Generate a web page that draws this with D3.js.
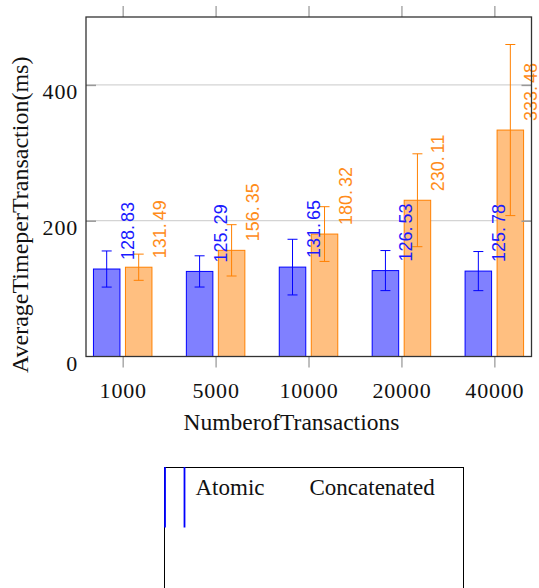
<!DOCTYPE html>
<html>
<head>
<meta charset="utf-8">
<script src="https://cdn.jsdelivr.net/npm/d3@7"></script>
<style>
  body { margin: 0; background: #fff; }
</style>
</head>
<body>
<svg id="chart" width="539" height="588"></svg>
<script>
// data
const categories = ["1000", "5000", "10000", "20000", "40000"];
const atomic = [128.83, 125.29, 131.65, 126.53, 125.78];
const atomicErr = [26.6, 23, 41, 29.5, 28.8];
const concatenated = [131.49, 156.35, 180.32, 230.11, 333.48];
const concatenatedErr = [19.3, 37.8, 40.3, 68.4, 126];
const yTicks = [0, 200, 400];
const gridTicks = [200, 400];
const legendLabels = ["Atomic", "Concatenated"];

const svg = d3.select("#chart");
const plotLeft = 86, plotRight = 531.5, plotTop = 17, plotBottom = 356.5;
const serif = "'Liberation Serif', serif";

const x = d3.scaleLinear().domain([-0.395, 4.4]).range([plotLeft, plotRight]);
const y = d3.scaleLinear().domain([0, 500]).range([plotBottom, plotTop]);

const series = [
    { name: "Atomic", values: atomic, err: atomicErr, offset: -16, stroke: "#0000ff", fill: "#8080ff", text: "#1a1aff" },
    { name: "Concatenated", values: concatenated, err: concatenatedErr, offset: 16, stroke: "#ff8000", fill: "#ffbf80", text: "#ff8c1a" }
];
const barW = 26.5;

// grid lines
svg.append("g")
    .selectAll("line")
    .data(gridTicks)
    .join("line")
    .attr("x1", plotLeft).attr("x2", plotRight)
    .attr("y1", d => y(d)).attr("y2", d => y(d))
    .attr("stroke", "#d4d4d4")
    .attr("stroke-width", 1.2);

// bars and error bars
series.forEach(s => {
    const g = svg.append("g");
    const idx = d3.range(s.values.length);

    g.selectAll("rect")
        .data(idx)
        .join("rect")
        .attr("x", i => x(i) + s.offset - barW / 2)
        .attr("y", i => y(s.values[i]))
        .attr("width", barW)
        .attr("height", i => y(0) - y(s.values[i]))
        .attr("fill", s.fill)
        .attr("stroke", s.stroke)
        .attr("stroke-width", 1);

    g.selectAll(".err")
        .data(idx)
        .join("line")
        .attr("class", "err")
        .attr("x1", i => x(i) + s.offset).attr("x2", i => x(i) + s.offset)
        .attr("y1", i => y(s.values[i] - s.err[i]))
        .attr("y2", i => y(s.values[i] + s.err[i]))
        .attr("stroke", s.stroke).attr("stroke-width", 1);

    ["lo", "hi"].forEach((k, j) => {
        const sign = j ? 1 : -1;
        g.selectAll(".cap-" + k)
            .data(idx)
            .join("line")
            .attr("class", "cap-" + k)
            .attr("x1", i => x(i) + s.offset - 5).attr("x2", i => x(i) + s.offset + 5)
            .attr("y1", i => y(s.values[i] + sign * s.err[i]))
            .attr("y2", i => y(s.values[i] + sign * s.err[i]))
            .attr("stroke", s.stroke).attr("stroke-width", 1);
    });
});

// value labels on top of everything
series.forEach(s => {
    const idx = d3.range(s.values.length);
    const lbl = svg.append("g").selectAll("text")
        .data(idx)
        .join("text")
        .attr("transform", i => `translate(${x(i) + s.offset + 20.5},${y(s.values[i]) - 9}) rotate(-90)`)
        .attr("dy", "0.36em")
        .attr("fill", s.text)
        .style("font-family", "'Liberation Sans', sans-serif")
        .style("font-size", "18px");
    lbl.append("tspan").text(i => s.values[i].toFixed(2).split(".")[0] + ".");
    lbl.append("tspan").attr("dx", 3).text(i => s.values[i].toFixed(2).split(".")[1]);
});

// axes
const xBottom = svg.append("g")
    .attr("transform", `translate(0,${plotBottom})`)
    .call(d3.axisBottom(x).tickValues(d3.range(categories.length))
        .tickFormat(i => categories[i]).tickSize(11).tickPadding(14.5));
xBottom.select(".domain").remove();
xBottom.selectAll("line").attr("stroke", "#aaa").attr("stroke-width", 1.5);
xBottom.selectAll("text")
    .style("font-family", serif).style("font-size", "22px")
    .style("letter-spacing", "0.8px").attr("fill", "#111");

const xTop = svg.append("g")
    .attr("transform", `translate(0,${plotTop})`)
    .call(d3.axisTop(x).tickValues(d3.range(categories.length)).tickFormat("").tickSize(11));
xTop.select(".domain").remove();
xTop.selectAll("line").attr("stroke", "#aaa").attr("stroke-width", 1.5);

const yLeft = svg.append("g")
    .attr("transform", `translate(${plotLeft},0)`)
    .call(d3.axisLeft(y).tickValues(yTicks).tickSize(-10).tickPadding(8));
yLeft.select(".domain").remove();
yLeft.selectAll("line").attr("stroke", "#999").attr("stroke-width", 1.5);
yLeft.selectAll("text")
    .attr("dy", "14px")
    .style("font-family", serif).style("font-size", "22px")
    .style("letter-spacing", "0.8px").attr("fill", "#111");
yLeft.selectAll(".tick").filter(d => d === 0).select("line").remove();

const yRight = svg.append("g")
    .attr("transform", `translate(${plotRight},0)`)
    .call(d3.axisRight(y).tickValues(gridTicks).tickFormat("").tickSize(-10));
yRight.select(".domain").remove();
yRight.selectAll("line").attr("stroke", "#999").attr("stroke-width", 1.5);

// frame
svg.append("rect")
    .attr("x", plotLeft).attr("y", plotTop)
    .attr("width", plotRight - plotLeft).attr("height", plotBottom - plotTop)
    .attr("fill", "none").attr("stroke", "#333").attr("stroke-width", 1.3);

// axis titles
svg.append("text")
    .attr("x", 183.5).attr("y", 430)
    .style("font-family", serif).style("font-size", "23.5px")
    .attr("fill", "#111")
    .text("NumberofTransactions");

svg.append("text")
    .attr("transform", "translate(28,373) rotate(-90)")
    .style("font-family", serif).style("font-size", "24px")
    .attr("fill", "#111")
    .text("AverageTimeperTransaction(ms)");

// legend (as rendered in the reference)
const legend = svg.append("g");
legend.append("rect")
    .attr("x", 164.5).attr("y", 467.5)
    .attr("width", 299).attr("height", 140)
    .attr("fill", "#fff").attr("stroke", "#000").attr("stroke-width", 1);
legend.selectAll(".mark")
    .data([165, 184.5])
    .join("line")
    .attr("class", "mark")
    .attr("x1", d => d).attr("x2", d => d)
    .attr("y1", 467).attr("y2", 527.5)
    .attr("stroke", "#0000ff").attr("stroke-width", 1.8);
legend.selectAll(".ltxt")
    .data(legendLabels)
    .join("text")
    .attr("class", "ltxt")
    .attr("x", (d, i) => [195.5, 309.5][i])
    .attr("y", 495)
    .style("font-family", serif).style("font-size", "23px")
    .attr("fill", "#111")
    .text(d => d);
</script>
</body>
</html>
